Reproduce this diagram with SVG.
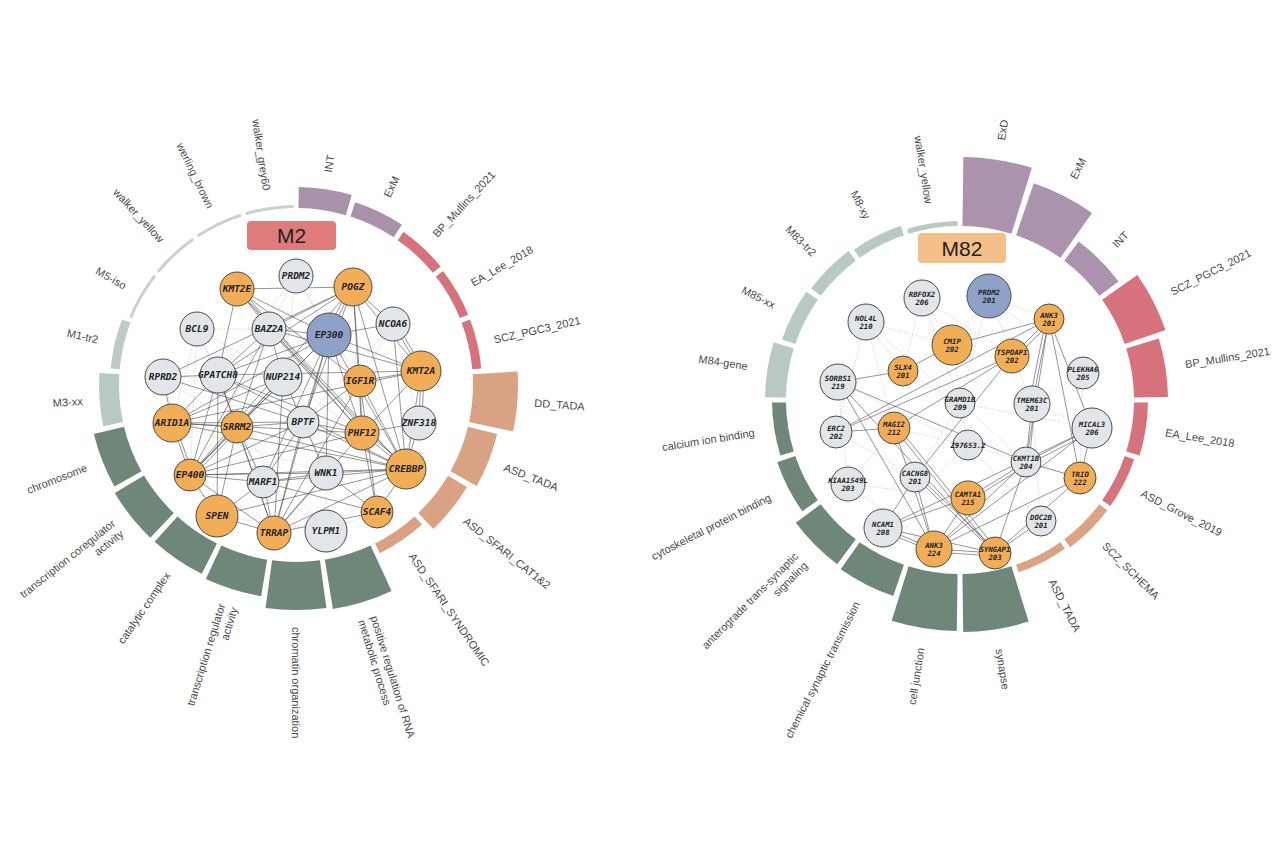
<svg xmlns="http://www.w3.org/2000/svg" width="1280" height="864" viewBox="0 0 1280 864">
<defs>
<style>
.g{fill:#e2e5e9;stroke:#4a4a4a;stroke-width:1}
.o{fill:#f2ad57;stroke:#4a4a4a;stroke-width:1}
.b{fill:#8ea1c8;stroke:#4a4a4a;stroke-width:1}
.t{font-family:"DejaVu Sans Mono","Liberation Mono",monospace;font-weight:bold;font-style:italic;font-size:9.5px;fill:#222;text-anchor:middle}
.ts{font-family:"DejaVu Sans Mono","Liberation Mono",monospace;font-weight:bold;font-style:italic;font-size:7.3px;fill:#222;text-anchor:middle}
.lab{font-family:"Liberation Sans",Arial,sans-serif;font-size:11px;fill:#4a4a4a}
.e line{stroke:#4d4d4d;stroke-width:0.8;stroke-opacity:0.75}
.f line{stroke:#bdbdbd;stroke-width:0.6;stroke-dasharray:1.5 1.5}
.ring circle{fill:none}
.box{font-family:"Liberation Sans",Arial,sans-serif;font-size:21px;fill:#222;text-anchor:middle}
</style>
</defs>
<rect width="1280" height="864" fill="#ffffff"/>

<!-- ===== LEFT MODULE M2 ===== -->
<g id="ring-M2" class="ring" transform="translate(296,385)">
<circle r="178.5" stroke="#c8d1ce" stroke-width="3" stroke-dasharray="48.42 2000" transform="rotate(253.66)"/>
<circle r="187.5" stroke="#a991a9" stroke-width="21" stroke-dasharray="50.87 2000" transform="rotate(-89.2)"/>
<circle r="184.5" stroke="#a991a9" stroke-width="15" stroke-dasharray="50.05 2000" transform="rotate(-72.06)"/>
<circle r="182" stroke="#d6727b" stroke-width="10" stroke-dasharray="49.37 2000" transform="rotate(-54.91)"/>
<circle r="181.5" stroke="#d6727b" stroke-width="9" stroke-dasharray="49.24 2000" transform="rotate(-37.77)"/>
<circle r="181.5" stroke="#d6727b" stroke-width="9" stroke-dasharray="49.24 2000" transform="rotate(-20.63)"/>
<circle r="199.5" stroke="#d9a283" stroke-width="45" stroke-dasharray="54.12 2000" transform="rotate(-3.48)"/>
<circle r="192" stroke="#d9a283" stroke-width="30" stroke-dasharray="52.09 2000" transform="rotate(13.66)"/>
<circle r="188" stroke="#d9a283" stroke-width="22" stroke-dasharray="51.00 2000" transform="rotate(30.8)"/>
<circle r="182.5" stroke="#d9a283" stroke-width="11" stroke-dasharray="49.51 2000" transform="rotate(47.94)"/>
<circle r="202" stroke="#6e8779" stroke-width="50" stroke-dasharray="54.80 2000" transform="rotate(65.09)"/>
<circle r="201" stroke="#6e8779" stroke-width="48" stroke-dasharray="54.53 2000" transform="rotate(82.23)"/>
<circle r="195.5" stroke="#6e8779" stroke-width="37" stroke-dasharray="53.04 2000" transform="rotate(99.37)"/>
<circle r="194" stroke="#6e8779" stroke-width="34" stroke-dasharray="52.63 2000" transform="rotate(116.52)"/>
<circle r="194" stroke="#6e8779" stroke-width="34" stroke-dasharray="52.63 2000" transform="rotate(133.66)"/>
<circle r="192.5" stroke="#6e8779" stroke-width="31" stroke-dasharray="52.22 2000" transform="rotate(150.8)"/>
<circle r="187" stroke="#b7c9c3" stroke-width="20" stroke-dasharray="50.73 2000" transform="rotate(167.94)"/>
<circle r="181.5" stroke="#bccbc6" stroke-width="9" stroke-dasharray="49.24 2000" transform="rotate(185.09)"/>
<circle r="178.5" stroke="#c8d1ce" stroke-width="3" stroke-dasharray="48.42 2000" transform="rotate(202.23)"/>
<circle r="178.5" stroke="#c8d1ce" stroke-width="3" stroke-dasharray="48.42 2000" transform="rotate(219.37)"/>
<circle r="178.5" stroke="#c8d1ce" stroke-width="3" stroke-dasharray="48.42 2000" transform="rotate(236.52)"/>
</g>

<g id="labels-M2" class="lab" transform="translate(296,385)">
<text transform="rotate(-81.43) translate(215,0)" dy="0.35em">INT</text>
<text transform="rotate(-64.29) translate(209,0)" dy="0.35em">ExM</text>
<text transform="rotate(-47.14) translate(204,0)" dy="0.35em">BP_Mullins_2021</text>
<text transform="rotate(-30) translate(203,0)" dy="0.35em">EA_Lee_2018</text>
<text transform="rotate(-12.86) translate(203,0)" dy="0.35em">SCZ_PGC3_2021</text>
<text transform="rotate(4.29) translate(239,0)" dy="0.35em">DD_TADA</text>
<text transform="rotate(21.43) translate(224,0)" dy="0.35em">ASD_TADA</text>
<text transform="rotate(38.57) translate(216,0)" dy="0.35em">ASD_SFARI_CAT1&amp;2</text>
<text transform="rotate(55.71) translate(205,0)" dy="0.35em">ASD_SFARI_SYNDROMIC</text>
<text transform="rotate(72.86) translate(244,0)"><tspan x="0" dy="-0.25em">positive regulation of RNA</tspan><tspan x="0" dy="1.2em">metabolic process</tspan></text>
<text transform="rotate(90) translate(242,0)" dy="0.35em">chromatin organization</text>
<text transform="rotate(287.14) translate(-231,0)" text-anchor="end"><tspan x="0" dy="-0.25em">transcription regulator</tspan><tspan x="0" dy="1.2em">activity</tspan></text>
<text transform="rotate(304.29) translate(-228,0)" text-anchor="end" dy="0.35em">catalytic complex</text>
<text transform="rotate(321.43) translate(-228,0)" text-anchor="end"><tspan x="0" dy="-0.25em">transcription coregulator</tspan><tspan x="0" dy="1.2em">activity</tspan></text>
<text transform="rotate(338.57) translate(-225,0)" text-anchor="end" dy="0.35em">chromosome</text>
<text transform="rotate(355.71) translate(-214,0)" text-anchor="end" dy="0.35em">M3-xx</text>
<text transform="rotate(12.86) translate(-203,0)" text-anchor="end" dy="0.35em">M1-tr2</text>
<text transform="rotate(30) translate(-197,0)" text-anchor="end" dy="0.35em">M5-iso</text>
<text transform="rotate(47.14) translate(-197,0)" text-anchor="end" dy="0.35em">walker_yellow</text>
<text transform="rotate(64.29) translate(-197,0)" text-anchor="end" dy="0.35em">werling_brown</text>
<text transform="rotate(81.43) translate(-197,0)" text-anchor="end" dy="0.35em">walker_grey60</text>
</g>

<g id="title-M2">
<rect x="247" y="221" width="89" height="29" rx="4" fill="#e07b7c"/>
<text class="box" x="291.5" y="243">M2</text>
</g>

<g id="connectors-M2">
<g class="f">
<line x1="326" y1="531" x2="326" y2="473"/><line x1="326" y1="531" x2="406" y2="469"/><line x1="326" y1="531" x2="217" y2="516"/>
<line x1="197" y1="329" x2="218" y2="375"/><line x1="197" y1="329" x2="172" y2="423"/><line x1="197" y1="329" x2="269" y2="329"/>
<line x1="197" y1="329" x2="283" y2="377"/><line x1="296" y1="276" x2="269" y2="329"/><line x1="296" y1="276" x2="283" y2="377"/>
<line x1="296" y1="276" x2="329" y2="335"/><line x1="419" y1="423" x2="377" y2="512"/><line x1="419" y1="423" x2="326" y2="473"/>
<line x1="163" y1="377" x2="237" y2="427"/><line x1="197" y1="329" x2="237" y2="427"/><line x1="296" y1="276" x2="360" y2="381"/>
<line x1="326" y1="531" x2="263" y2="482"/><line x1="326" y1="531" x2="377" y2="512"/><line x1="163" y1="377" x2="190" y2="475"/>
<line x1="393" y1="324" x2="360" y2="381"/><line x1="393" y1="324" x2="419" y2="423"/><line x1="197" y1="329" x2="190" y2="475"/>
<line x1="296" y1="276" x2="218" y2="375"/><line x1="283" y1="377" x2="326" y2="473"/><line x1="283" y1="377" x2="362" y2="433"/>
<line x1="218" y1="375" x2="263" y2="482"/><line x1="172" y1="423" x2="326" y2="473"/><line x1="303" y1="422" x2="377" y2="512"/>
<line x1="237" y1="427" x2="326" y2="531"/><line x1="393" y1="324" x2="303" y2="422"/><line x1="163" y1="377" x2="283" y2="377"/>
</g>
<g class="e">
<line x1="237" y1="289" x2="353" y2="287"/><line x1="237" y1="289" x2="269" y2="329"/><line x1="240" y1="287" x2="272" y2="327"/>
<line x1="237" y1="289" x2="329" y2="335"/><line x1="237" y1="289" x2="362" y2="433"/><line x1="237" y1="289" x2="406" y2="469"/>
<line x1="237" y1="289" x2="218" y2="375"/><line x1="237" y1="289" x2="360" y2="381"/>
<line x1="353" y1="287" x2="329" y2="335"/><line x1="350" y1="286" x2="326" y2="334"/><line x1="353" y1="287" x2="269" y2="329"/>
<line x1="353" y1="287" x2="218" y2="375"/><line x1="353" y1="287" x2="163" y2="377"/><line x1="353" y1="287" x2="393" y2="324"/>
<line x1="353" y1="287" x2="421" y2="371"/><line x1="353" y1="287" x2="360" y2="381"/><line x1="353" y1="287" x2="362" y2="433"/>
<line x1="353" y1="287" x2="406" y2="469"/><line x1="353" y1="287" x2="303" y2="422"/><line x1="353" y1="287" x2="190" y2="475"/>
<line x1="329" y1="335" x2="269" y2="329"/><line x1="329" y1="335" x2="393" y2="324"/><line x1="329" y1="335" x2="421" y2="371"/>
<line x1="329" y1="335" x2="303" y2="422"/><line x1="329" y1="335" x2="406" y2="469"/><line x1="329" y1="335" x2="237" y2="427"/>
<line x1="329" y1="335" x2="190" y2="475"/><line x1="329" y1="335" x2="172" y2="423"/><line x1="329" y1="335" x2="263" y2="482"/>
<line x1="329" y1="335" x2="274" y2="533"/><line x1="329" y1="335" x2="362" y2="433"/><line x1="329" y1="335" x2="326" y2="473"/>
<line x1="329" y1="335" x2="218" y2="375"/>
<line x1="269" y1="329" x2="218" y2="375"/><line x1="269" y1="329" x2="283" y2="377"/><line x1="269" y1="329" x2="362" y2="433"/>
<line x1="272" y1="327" x2="365" y2="431"/><line x1="269" y1="329" x2="406" y2="469"/><line x1="269" y1="329" x2="237" y2="427"/>
<line x1="269" y1="329" x2="190" y2="475"/><line x1="269" y1="329" x2="421" y2="371"/>
<line x1="393" y1="324" x2="421" y2="371"/><line x1="396" y1="323" x2="424" y2="370"/><line x1="393" y1="324" x2="406" y2="469"/>
<line x1="421" y1="371" x2="419" y2="423"/><line x1="424" y1="371" x2="422" y2="423"/><line x1="421" y1="371" x2="406" y2="469"/>
<line x1="421" y1="371" x2="360" y2="381"/><line x1="421" y1="371" x2="218" y2="375"/><line x1="421" y1="371" x2="172" y2="423"/>
<line x1="421" y1="371" x2="362" y2="433"/>
<line x1="163" y1="377" x2="218" y2="375"/><line x1="163" y1="377" x2="172" y2="423"/><line x1="163" y1="377" x2="303" y2="422"/>
<line x1="218" y1="375" x2="172" y2="423"/><line x1="218" y1="375" x2="190" y2="475"/><line x1="218" y1="375" x2="217" y2="516"/>
<line x1="218" y1="375" x2="406" y2="469"/><line x1="218" y1="375" x2="362" y2="433"/><line x1="218" y1="375" x2="237" y2="427"/>
<line x1="218" y1="375" x2="274" y2="533"/>
<line x1="283" y1="377" x2="303" y2="422"/><line x1="283" y1="377" x2="190" y2="475"/><line x1="283" y1="377" x2="274" y2="533"/>
<line x1="283" y1="377" x2="172" y2="423"/><line x1="283" y1="377" x2="237" y2="427"/>
<line x1="360" y1="381" x2="362" y2="433"/><line x1="360" y1="381" x2="377" y2="512"/><line x1="360" y1="381" x2="303" y2="422"/>
<line x1="360" y1="381" x2="274" y2="533"/><line x1="360" y1="381" x2="406" y2="469"/>
<line x1="172" y1="423" x2="237" y2="427"/><line x1="172" y1="423" x2="190" y2="475"/><line x1="175" y1="423" x2="193" y2="475"/>
<line x1="172" y1="423" x2="303" y2="422"/><line x1="172" y1="423" x2="362" y2="433"/><line x1="172" y1="423" x2="406" y2="469"/>
<line x1="237" y1="427" x2="303" y2="422"/><line x1="237" y1="427" x2="190" y2="475"/><line x1="240" y1="428" x2="193" y2="476"/>
<line x1="237" y1="427" x2="217" y2="516"/><line x1="237" y1="427" x2="263" y2="482"/><line x1="237" y1="427" x2="274" y2="533"/>
<line x1="237" y1="427" x2="406" y2="469"/>
<line x1="303" y1="422" x2="362" y2="433"/><line x1="303" y1="422" x2="326" y2="473"/><line x1="303" y1="422" x2="263" y2="482"/>
<line x1="303" y1="422" x2="274" y2="533"/><line x1="303" y1="422" x2="190" y2="475"/><line x1="303" y1="422" x2="406" y2="469"/>
<line x1="362" y1="433" x2="406" y2="469"/><line x1="364" y1="431" x2="408" y2="467"/><line x1="362" y1="433" x2="419" y2="423"/>
<line x1="362" y1="433" x2="274" y2="533"/><line x1="362" y1="433" x2="190" y2="475"/><line x1="362" y1="433" x2="377" y2="512"/>
<line x1="419" y1="423" x2="406" y2="469"/>
<line x1="190" y1="475" x2="263" y2="482"/><line x1="190" y1="475" x2="326" y2="473"/><line x1="190" y1="475" x2="406" y2="469"/>
<line x1="190" y1="475" x2="217" y2="516"/><line x1="190" y1="475" x2="274" y2="533"/>
<line x1="263" y1="482" x2="326" y2="473"/><line x1="263" y1="482" x2="274" y2="533"/><line x1="263" y1="482" x2="217" y2="516"/>
<line x1="263" y1="482" x2="377" y2="512"/><line x1="263" y1="482" x2="406" y2="469"/>
<line x1="326" y1="473" x2="406" y2="469"/><line x1="326" y1="473" x2="274" y2="533"/><line x1="326" y1="473" x2="377" y2="512"/>
<line x1="406" y1="469" x2="377" y2="512"/><line x1="406" y1="469" x2="274" y2="533"/><line x1="406" y1="469" x2="217" y2="516"/>
<line x1="217" y1="516" x2="274" y2="533"/><line x1="274" y1="533" x2="377" y2="512"/>
</g>
</g>

<g id="nodes-M2">
<g id="n-PRDM2"><circle class="g" cx="296" cy="276" r="17"/><text class="t" x="296" y="279.4">PRDM2</text></g>
<g id="n-KMT2E"><circle class="o" cx="237" cy="289" r="17"/><text class="t" x="237" y="292.4">KMT2E</text></g>
<g id="n-POGZ"><circle class="o" cx="353" cy="287" r="19"/><text class="t" x="353" y="290.4">POGZ</text></g>
<g id="n-BCL9"><circle class="g" cx="197" cy="329" r="17"/><text class="t" x="197" y="332.4">BCL9</text></g>
<g id="n-BAZ2A"><circle class="g" cx="269" cy="329" r="17"/><text class="t" x="269" y="332.4">BAZ2A</text></g>
<g id="n-EP300"><circle class="b" cx="329" cy="335" r="22"/><text class="t" x="329" y="338.4">EP300</text></g>
<g id="n-NCOA6"><circle class="g" cx="393" cy="324" r="17"/><text class="t" x="393" y="327.4">NCOA6</text></g>
<g id="n-RPRD2"><circle class="g" cx="163" cy="377" r="18"/><text class="t" x="163" y="380.4">RPRD2</text></g>
<g id="n-GPATCH8"><circle class="g" cx="218" cy="375" r="18"/><text class="t" x="218" y="378.4">GPATCH8</text></g>
<g id="n-NUP214"><circle class="g" cx="283" cy="377" r="19"/><text class="t" x="283" y="380.4">NUP214</text></g>
<g id="n-IGF1R"><circle class="o" cx="360" cy="381" r="16"/><text class="t" x="360" y="384.4">IGF1R</text></g>
<g id="n-KMT2A"><circle class="o" cx="421" cy="371" r="20"/><text class="t" x="421" y="374.4">KMT2A</text></g>
<g id="n-ARID1A"><circle class="o" cx="172" cy="423" r="19"/><text class="t" x="172" y="426.4">ARID1A</text></g>
<g id="n-SRRM2"><circle class="o" cx="237" cy="427" r="16"/><text class="t" x="237" y="430.4">SRRM2</text></g>
<g id="n-BPTF"><circle class="g" cx="303" cy="422" r="16"/><text class="t" x="303" y="425.4">BPTF</text></g>
<g id="n-PHF12"><circle class="o" cx="362" cy="433" r="17"/><text class="t" x="362" y="436.4">PHF12</text></g>
<g id="n-ZNF318"><circle class="g" cx="419" cy="423" r="17"/><text class="t" x="419" y="426.4">ZNF318</text></g>
<g id="n-EP400"><circle class="o" cx="190" cy="475" r="16"/><text class="t" x="190" y="478.4">EP400</text></g>
<g id="n-MARF1"><circle class="g" cx="263" cy="482" r="16"/><text class="t" x="263" y="485.4">MARF1</text></g>
<g id="n-WNK1"><circle class="g" cx="326" cy="473" r="17"/><text class="t" x="326" y="476.4">WNK1</text></g>
<g id="n-CREBBP"><circle class="o" cx="406" cy="469" r="20"/><text class="t" x="406" y="472.4">CREBBP</text></g>
<g id="n-SPEN"><circle class="o" cx="217" cy="516" r="21"/><text class="t" x="217" y="519.4">SPEN</text></g>
<g id="n-TRRAP"><circle class="o" cx="274" cy="533" r="17"/><text class="t" x="274" y="536.4">TRRAP</text></g>
<g id="n-YLPM1"><circle class="g" cx="326" cy="531" r="21"/><text class="t" x="326" y="534.4">YLPM1</text></g>
<g id="n-SCAF4"><circle class="o" cx="377" cy="512" r="16"/><text class="t" x="377" y="515.4">SCAF4</text></g>
</g>

<!-- ===== RIGHT MODULE M82 ===== -->
<g id="ring-M82" class="ring" transform="translate(960,400)">
<circle r="176.5" stroke="#b8c9c3" stroke-width="5" stroke-dasharray="50.52 2000" transform="rotate(252.8)"/>
<circle r="208.5" stroke="#ab93ad" stroke-width="69" stroke-dasharray="59.68 2000" transform="rotate(-89.2)"/>
<circle r="201.5" stroke="#ab93ad" stroke-width="55" stroke-dasharray="57.68 2000" transform="rotate(-71.2)"/>
<circle r="186" stroke="#ab93ad" stroke-width="24" stroke-dasharray="53.24 2000" transform="rotate(-53.2)"/>
<circle r="195.5" stroke="#d6727b" stroke-width="43" stroke-dasharray="55.96 2000" transform="rotate(-35.2)"/>
<circle r="191" stroke="#d6727b" stroke-width="34" stroke-dasharray="54.67 2000" transform="rotate(-17.2)"/>
<circle r="181" stroke="#d6727b" stroke-width="14" stroke-dasharray="51.81 2000" transform="rotate(0.8)"/>
<circle r="179" stroke="#d6727b" stroke-width="10" stroke-dasharray="51.24 2000" transform="rotate(18.8)"/>
<circle r="179" stroke="#dba283" stroke-width="10" stroke-dasharray="51.24 2000" transform="rotate(36.8)"/>
<circle r="178" stroke="#dba283" stroke-width="8" stroke-dasharray="50.95 2000" transform="rotate(54.8)"/>
<circle r="203" stroke="#6e8779" stroke-width="58" stroke-dasharray="58.10 2000" transform="rotate(72.8)"/>
<circle r="202.5" stroke="#6e8779" stroke-width="57" stroke-dasharray="57.96 2000" transform="rotate(90.8)"/>
<circle r="190.5" stroke="#6e8779" stroke-width="33" stroke-dasharray="54.53 2000" transform="rotate(108.8)"/>
<circle r="189.5" stroke="#6e8779" stroke-width="31" stroke-dasharray="54.24 2000" transform="rotate(126.8)"/>
<circle r="183.5" stroke="#6e8779" stroke-width="19" stroke-dasharray="52.52 2000" transform="rotate(144.8)"/>
<circle r="181" stroke="#6e8779" stroke-width="14" stroke-dasharray="51.81 2000" transform="rotate(162.8)"/>
<circle r="184.5" stroke="#b8c9c3" stroke-width="21" stroke-dasharray="52.81 2000" transform="rotate(180.8)"/>
<circle r="181" stroke="#b8c9c3" stroke-width="14" stroke-dasharray="51.81 2000" transform="rotate(198.8)"/>
<circle r="180" stroke="#b8c9c3" stroke-width="12" stroke-dasharray="51.52 2000" transform="rotate(216.8)"/>
<circle r="179" stroke="#b8c9c3" stroke-width="10" stroke-dasharray="51.24 2000" transform="rotate(234.8)"/>
</g>

<g id="labels-M82" class="lab" transform="translate(960,400)">
<text transform="rotate(81) translate(-199,0)" text-anchor="end" dy="0.35em">walker_yellow</text>
<text transform="rotate(-81) translate(263,0)" dy="0.35em">ExD</text>
<text transform="rotate(-63) translate(249,0)" dy="0.35em">ExM</text>
<text transform="rotate(-45) translate(218,0)" dy="0.35em">INT</text>
<text transform="rotate(-27) translate(237,0)" dy="0.35em">SCZ_PGC3_2021</text>
<text transform="rotate(-9) translate(228,0)" dy="0.35em">BP_Mullins_2021</text>
<text transform="rotate(9) translate(208,0)" dy="0.35em">EA_Lee_2018</text>
<text transform="rotate(27) translate(204,0)" dy="0.35em">ASD_Grove_2019</text>
<text transform="rotate(45) translate(204,0)" dy="0.35em">SCZ_SCHEMA</text>
<text transform="rotate(63) translate(202,0)" dy="0.35em">ASD_TADA</text>
<text transform="rotate(81) translate(252,0)" dy="0.35em">synapse</text>
<text transform="rotate(279) translate(-251,0)" text-anchor="end" dy="0.35em">cell junction</text>
<text transform="rotate(297) translate(-227,0)" text-anchor="end" dy="0.35em">chemical synaptic transmission</text>
<text transform="rotate(315) translate(-225,0)" text-anchor="end"><tspan x="0" dy="-0.25em">anterograde trans-synaptic</tspan><tspan x="0" dy="1.2em">signaling</tspan></text>
<text transform="rotate(333) translate(-213,0)" text-anchor="end" dy="0.35em">cytoskeletal protein binding</text>
<text transform="rotate(351) translate(-208,0)" text-anchor="end" dy="0.35em">calcium ion binding</text>
<text transform="rotate(9) translate(-215,0)" text-anchor="end" dy="0.35em">M84-gene</text>
<text transform="rotate(27) translate(-208,0)" text-anchor="end" dy="0.35em">M85-xx</text>
<text transform="rotate(45) translate(-206,0)" text-anchor="end" dy="0.35em">M83-tr2</text>
<text transform="rotate(63) translate(-204,0)" text-anchor="end" dy="0.35em">M8-xy</text>
</g>

<g id="title-M82">
<rect x="918" y="233" width="88" height="30" rx="4" fill="#f2c088"/>
<text class="box" x="962" y="256">M82</text>
</g>

<g id="connectors-M82">
<g class="f">
<line x1="922" y1="298" x2="960" y2="403"/><line x1="989" y1="296" x2="1032" y2="404"/><line x1="866" y1="322" x2="894" y2="428"/>
<line x1="866" y1="322" x2="952" y2="345"/><line x1="989" y1="296" x2="952" y2="345"/><line x1="922" y1="298" x2="903" y2="371"/>
<line x1="848" y1="484" x2="968" y2="498"/><line x1="848" y1="484" x2="894" y2="428"/><line x1="960" y1="403" x2="1026" y2="462"/>
<line x1="968" y1="445" x2="883" y2="528"/><line x1="968" y1="445" x2="1080" y2="478"/><line x1="1083" y1="373" x2="1080" y2="478"/>
<line x1="989" y1="296" x2="1083" y2="373"/><line x1="922" y1="298" x2="1012" y2="356"/><line x1="866" y1="322" x2="836" y2="432"/>
<line x1="848" y1="484" x2="838" y2="382"/><line x1="960" y1="403" x2="915" y2="477"/><line x1="968" y1="445" x2="1041" y2="521"/>
<line x1="1032" y1="404" x2="1041" y2="521"/><line x1="989" y1="296" x2="960" y2="403"/><line x1="903" y1="371" x2="960" y2="403"/>
<line x1="952" y1="345" x2="968" y2="445"/><line x1="848" y1="484" x2="934" y2="549"/><line x1="836" y1="432" x2="915" y2="477"/>
<line x1="866" y1="322" x2="903" y2="371"/><line x1="922" y1="298" x2="952" y2="345"/><line x1="1032" y1="404" x2="1092" y2="428"/>
<line x1="1083" y1="373" x2="1032" y2="404"/><line x1="866" y1="322" x2="960" y2="403"/><line x1="989" y1="296" x2="1049" y2="319"/>
<line x1="838" y1="382" x2="968" y2="445"/><line x1="894" y1="428" x2="968" y2="445"/><line x1="960" y1="403" x2="1092" y2="428"/>
</g>
<g class="e">
<line x1="903" y1="371" x2="952" y2="345"/><line x1="903" y1="371" x2="838" y2="382"/><line x1="952" y1="345" x2="1049" y2="319"/>
<line x1="1049" y1="319" x2="1012" y2="356"/><line x1="1051" y1="322" x2="1014" y2="359"/>
<line x1="1049" y1="319" x2="1032" y2="404"/><line x1="1046" y1="319" x2="1029" y2="404"/>
<line x1="1049" y1="319" x2="1026" y2="462"/><line x1="1049" y1="319" x2="1092" y2="428"/><line x1="1049" y1="319" x2="1080" y2="478"/>
<line x1="1049" y1="319" x2="836" y2="432"/><line x1="1012" y1="356" x2="836" y2="432"/><line x1="1012" y1="356" x2="894" y2="428"/>
<line x1="1012" y1="356" x2="915" y2="477"/><line x1="838" y1="382" x2="1026" y2="462"/><line x1="838" y1="382" x2="934" y2="549"/>
<line x1="838" y1="382" x2="995" y2="553"/><line x1="836" y1="432" x2="894" y2="428"/>
<line x1="894" y1="428" x2="995" y2="553"/><line x1="897" y1="426" x2="998" y2="551"/><line x1="894" y1="428" x2="934" y2="549"/>
<line x1="1026" y1="462" x2="1032" y2="404"/><line x1="1029" y1="462" x2="1035" y2="404"/>
<line x1="1026" y1="462" x2="1092" y2="428"/><line x1="1027" y1="465" x2="1093" y2="431"/>
<line x1="1026" y1="462" x2="1080" y2="478"/><line x1="1026" y1="462" x2="968" y2="498"/><line x1="1027" y1="465" x2="969" y2="501"/>
<line x1="1026" y1="462" x2="934" y2="549"/><line x1="1026" y1="462" x2="995" y2="553"/>
<line x1="1092" y1="428" x2="1080" y2="478"/><line x1="1092" y1="428" x2="883" y2="528" stroke-width="1.2"/><line x1="1092" y1="428" x2="934" y2="549"/>
<line x1="1080" y1="478" x2="934" y2="549"/><line x1="1080" y1="478" x2="995" y2="553"/>
<line x1="915" y1="477" x2="883" y2="528"/><line x1="915" y1="477" x2="934" y2="549"/>
<line x1="915" y1="477" x2="995" y2="553"/><line x1="918" y1="476" x2="998" y2="552"/>
<line x1="883" y1="528" x2="934" y2="549"/><line x1="883" y1="531" x2="934" y2="552"/><line x1="883" y1="528" x2="995" y2="553"/>
<line x1="883" y1="528" x2="968" y2="498"/>
<line x1="934" y1="549" x2="995" y2="553"/><line x1="934" y1="552" x2="995" y2="556"/><line x1="934" y1="549" x2="968" y2="498"/>
<line x1="1041" y1="521" x2="995" y2="553"/>
</g>
</g>

<g id="nodes-M82">
<g id="n-RBFOX2"><circle class="g" cx="922" cy="298" r="18"/><text class="ts" x="922" y="296.5">RBFOX2<tspan x="922" dy="8.5">206</tspan></text></g>
<g id="n-PROM2"><circle class="b" cx="989" cy="296" r="22"/><text class="ts" x="989" y="294.5">PROM2<tspan x="989" dy="8.5">201</tspan></text></g>
<g id="n-NOL4L"><circle class="g" cx="866" cy="322" r="18"/><text class="ts" x="866" y="320.5">NOL4L<tspan x="866" dy="8.5">210</tspan></text></g>
<g id="n-ANK3-201"><circle class="o" cx="1049" cy="319" r="15"/><text class="ts" x="1049" y="317.5">ANK3<tspan x="1049" dy="8.5">201</tspan></text></g>
<g id="n-CMIP"><circle class="o" cx="952" cy="345" r="20"/><text class="ts" x="952" y="343.5">CMIP<tspan x="952" dy="8.5">202</tspan></text></g>
<g id="n-TSPOAP1"><circle class="o" cx="1012" cy="356" r="17"/><text class="ts" x="1012" y="354.5">TSPOAP1<tspan x="1012" dy="8.5">202</tspan></text></g>
<g id="n-SLX4"><circle class="o" cx="903" cy="371" r="15"/><text class="ts" x="903" y="369.5">SLX4<tspan x="903" dy="8.5">201</tspan></text></g>
<g id="n-SORBS1"><circle class="g" cx="838" cy="382" r="18"/><text class="ts" x="838" y="380.5">SORBS1<tspan x="838" dy="8.5">219</tspan></text></g>
<g id="n-PLEKHA6"><circle class="g" cx="1083" cy="373" r="16"/><text class="ts" x="1083" y="371.5">PLEKHA6<tspan x="1083" dy="8.5">205</tspan></text></g>
<g id="n-GRAMD1B"><circle class="g" cx="960" cy="403" r="15"/><text class="ts" x="960" y="401.5">GRAMD1B<tspan x="960" dy="8.5">209</tspan></text></g>
<g id="n-TMEM63C"><circle class="g" cx="1032" cy="404" r="18"/><text class="ts" x="1032" y="402.5">TMEM63C<tspan x="1032" dy="8.5">201</tspan></text></g>
<g id="n-ERC2"><circle class="g" cx="836" cy="432" r="16"/><text class="ts" x="836" y="430.5">ERC2<tspan x="836" dy="8.5">202</tspan></text></g>
<g id="n-MAGI2"><circle class="o" cx="894" cy="428" r="16"/><text class="ts" x="894" y="426.5">MAGI2<tspan x="894" dy="8.5">212</tspan></text></g>
<g id="n-MICAL3"><circle class="g" cx="1092" cy="428" r="20"/><text class="ts" x="1092" y="426.5">MICAL3<tspan x="1092" dy="8.5">206</tspan></text></g>
<g id="n-Z97653.2"><circle class="g" cx="968" cy="445" r="15"/><text class="ts" x="968" y="447.5">Z97653.2</text></g>
<g id="n-CKMT1B"><circle class="g" cx="1026" cy="462" r="15"/><text class="ts" x="1026" y="460.5">CKMT1B<tspan x="1026" dy="8.5">204</tspan></text></g>
<g id="n-TRIO"><circle class="o" cx="1080" cy="478" r="16"/><text class="ts" x="1080" y="476.5">TRIO<tspan x="1080" dy="8.5">222</tspan></text></g>
<g id="n-KIAA1549L"><circle class="g" cx="848" cy="484" r="17"/><text class="ts" x="848" y="482.5">KIAA1549L<tspan x="848" dy="8.5">203</tspan></text></g>
<g id="n-CACNG8"><circle class="g" cx="915" cy="477" r="15"/><text class="ts" x="915" y="475.5">CACNG8<tspan x="915" dy="8.5">201</tspan></text></g>
<g id="n-CAMTA1"><circle class="o" cx="968" cy="498" r="17"/><text class="ts" x="968" y="496.5">CAMTA1<tspan x="968" dy="8.5">215</tspan></text></g>
<g id="n-DOC2B"><circle class="g" cx="1041" cy="521" r="15"/><text class="ts" x="1041" y="519.5">DOC2B<tspan x="1041" dy="8.5">201</tspan></text></g>
<g id="n-NCAM1"><circle class="g" cx="883" cy="528" r="19"/><text class="ts" x="883" y="526.5">NCAM1<tspan x="883" dy="8.5">208</tspan></text></g>
<g id="n-ANK3-224"><circle class="o" cx="934" cy="549" r="18"/><text class="ts" x="934" y="547.5">ANK3<tspan x="934" dy="8.5">224</tspan></text></g>
<g id="n-SYNGAP1"><circle class="o" cx="995" cy="553" r="16"/><text class="ts" x="995" y="551.5">SYNGAP1<tspan x="995" dy="8.5">203</tspan></text></g>
</g>
</svg>
